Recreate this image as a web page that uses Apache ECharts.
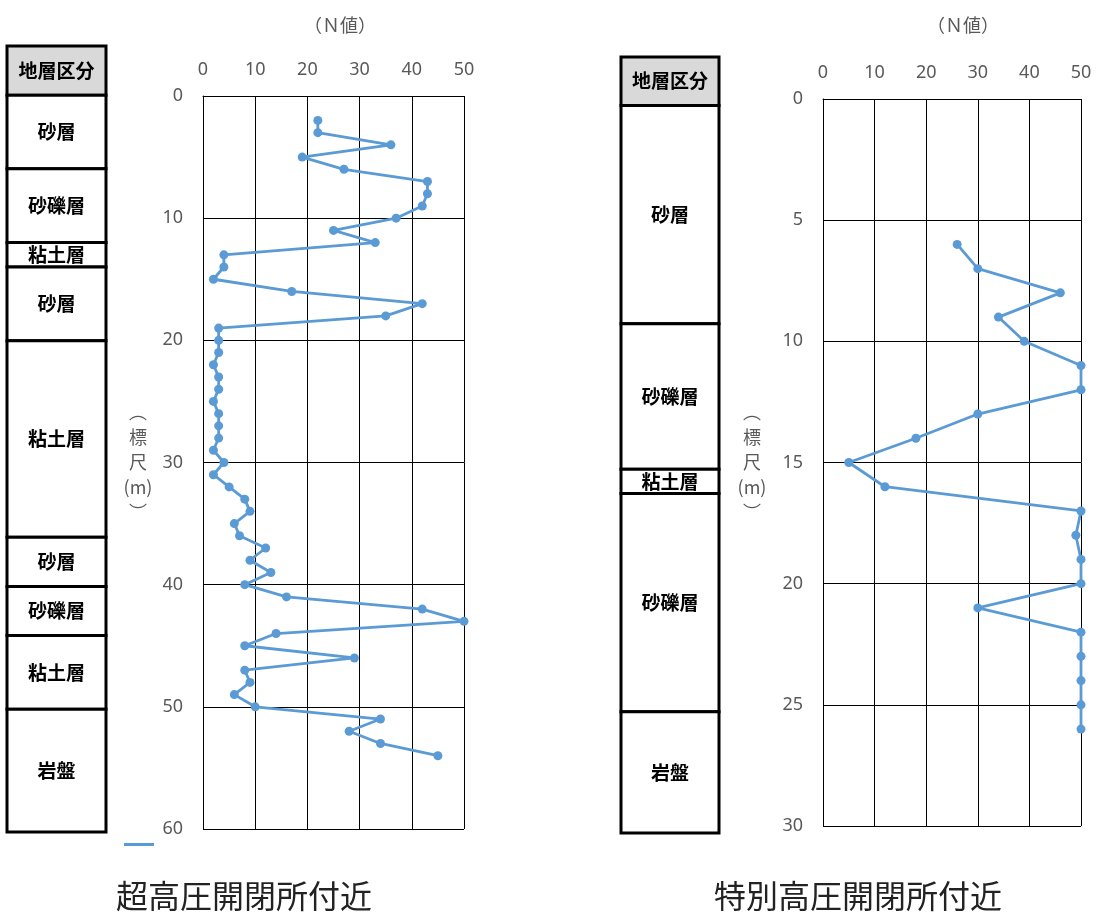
<!DOCTYPE html>
<html>
<head>
<meta charset="utf-8">
<script src="https://cdn.jsdelivr.net/npm/echarts@6/dist/echarts.min.js"></script>
<style>
html, body { margin: 0; padding: 0; background: #fff; }
#chart { width: 1097px; height: 913px; }
</style>
</head>
<body>
<div id="chart"></div>
<script>
// 超高圧開閉所付近
const leftDepth = [2, 3, 4, 5, 6, 7, 8, 9, 10, 11, 12, 13, 14, 15, 16, 17, 18, 19, 20, 21, 22, 23, 24, 25, 26, 27,
  28, 29, 30, 31, 32, 33, 34, 35, 36, 37, 38, 39, 40, 41, 42, 43, 44, 45, 46, 47, 48, 49, 50, 51, 52, 53, 54]
const leftN = [22, 22, 36, 19, 27, 43, 43, 42, 37, 25, 33, 4, 4, 2, 17, 42, 35, 3, 3, 3, 2, 3, 3, 2, 3, 3,
  3, 2, 4, 2, 5, 8, 9, 6, 7, 12, 9, 13, 8, 16, 42, 50, 14, 8, 29, 8, 9, 6, 10, 34, 28, 34, 45]
const leftLayerNames = ['砂層', '砂礫層', '粘土層', '砂層', '粘土層', '砂層', '砂礫層', '粘土層', '岩盤']
const leftLayerTop = [0, 6, 12, 14, 20, 36, 40, 44, 50]
const leftLayerBottom = [6, 12, 14, 20, 36, 40, 44, 50, 60]

// 特別高圧開閉所付近
const rightDepth = [6, 7, 8, 9, 10, 11, 12, 13, 14, 15, 16, 17, 18, 19, 20, 21, 22, 23, 24, 25, 26]
const rightN = [26, 30, 46, 34, 39, 50, 50, 30, 18, 5, 12, 50, 49, 50, 50, 30, 50, 50, 50, 50, 50]
const rightLayerNames = ['砂層', '砂礫層', '粘土層', '砂礫層', '岩盤']
const rightLayerTop = [0, 9, 15, 16, 25]
const rightLayerBottom = [9, 15, 16, 25, 30]

const columnHeader = '地層区分'
const nTicks = ['0', '10', '20', '30', '40', '50']
const panelTitles = ['超高圧開閉所付近', '特別高圧開閉所付近']

const LINE_COLOR = '#5b9bd5'
const AXIS_TEXT = '#595959'
const CJK = '"Noto Sans CJK JP", sans-serif'

function layerData(headerDepth, tops, bottoms) {
  const rows = [[0, -headerDepth, 0]]
  tops.forEach((t, i) => rows.push([0, t, bottoms[i]]))
  return rows
}

// renderItem does not get the item name, so the labels come in through a closure
function layerRenderer(labels) {
  return function (params, api) {
    const top = api.value(1)
    const bottom = api.value(2)
    const p0 = api.coord([0, top])
    const p1 = api.coord([1, bottom])
    return {
      type: 'rect',
      shape: { x: p0[0], y: p0[1], width: p1[0] - p0[0], height: p1[1] - p0[1] },
      style: { fill: top < 0 ? '#d9d9d9' : '#fff', stroke: '#000', lineWidth: 3 },
      textContent: {
        style: { text: labels[params.dataIndex], font: 'bold 19px ' + CJK, fill: '#000' },
      },
      textConfig: { position: 'inside' },
    }
  }
}

function plotAxes(gridIndex, maxDepth, step, nameGap) {
  const x = {
    gridIndex, type: 'value', position: 'top', min: 0, max: 50, interval: 10,
    axisLine: { show: true, lineStyle: { color: '#000', width: 1 } },
    axisTick: { show: false },
    axisLabel: {
      color: AXIS_TEXT, fontSize: 18, fontFamily: 'Noto Sans', margin: 17,
      formatter: (v) => nTicks[Math.round(v / 10)] ?? '',
    },
    splitLine: { show: true, lineStyle: { color: '#000', width: 1 } },
  }
  const y = {
    gridIndex, type: 'value', inverse: true, min: 0, max: maxDepth, interval: step,
    axisLine: { show: true, lineStyle: { color: '#000', width: 1 } },
    axisTick: { show: false },
    axisLabel: { color: AXIS_TEXT, fontSize: 18, fontFamily: 'Noto Sans', margin: 20 },
    splitLine: { show: true, lineStyle: { color: '#000', width: 1 } },
    name: '︵\n標\n尺\n(m)\n︶',
    nameLocation: 'middle',
    nameRotate: 0,
    nameGap,
    nameTextStyle: {
      color: AXIS_TEXT, fontSize: 18, lineHeight: 25, fontFamily: CJK,
      align: 'center', verticalAlign: 'middle', padding: [0, 0, 40, 0],
    },
  }
  return { x, y }
}

function columnAxes(gridIndex, headerDepth, maxDepth) {
  return {
    x: { gridIndex, type: 'value', min: 0, max: 1, show: false },
    y: { gridIndex, type: 'value', inverse: true, min: -headerDepth, max: maxDepth, show: false },
  }
}

function buildOption() {
  const lc = columnAxes(0, 4, 60)
  const lp = plotAxes(1, 60, 10, 65)
  const rc = columnAxes(2, 2, 30)
  const rp = plotAxes(3, 30, 5, 71)

  const nLine = {
    type: 'line',
    name: 'N値',
    symbol: 'circle',
    symbolSize: 9,
    lineStyle: { color: LINE_COLOR, width: 2.8 },
    itemStyle: { color: LINE_COLOR },
  }
  const smallTitle = { fontSize: 18, fontWeight: 'normal', color: AXIS_TEXT, fontFamily: CJK }
  const bigTitle = { fontSize: 32, fontWeight: 'normal', color: '#222', fontFamily: CJK }

  return {
    animation: false,
    backgroundColor: '#fff',
    title: [
      { text: '（Ｎ値）', left: 335, top: 11, textAlign: 'center', textStyle: smallTitle },
      { text: '（Ｎ値）', left: 958, top: 11, textAlign: 'center', textStyle: smallTitle },
      { text: panelTitles[0], left: 239, top: 875, textAlign: 'center', textStyle: bigTitle },
      { text: panelTitles[1], left: 853, top: 875, textAlign: 'center', textStyle: bigTitle },
    ],
    legend: {
      left: 119, top: 838, itemWidth: 30, itemHeight: 3, selectedMode: false,
      data: [{ name: 'N値', icon: 'rect' }],
      formatter: () => '',
    },
    grid: [
      { left: 7, top: 46, width: 99, height: 786 },
      { left: 203, top: 96, width: 261, height: 733 },
      { left: 621, top: 57, width: 98, height: 776 },
      { left: 823, top: 99, width: 258, height: 727 },
    ],
    xAxis: [lc.x, lp.x, rc.x, rp.x],
    yAxis: [lc.y, lp.y, rc.y, rp.y],
    series: [
      {
        type: 'custom', xAxisIndex: 0, yAxisIndex: 0, clip: false,
        encode: { x: 0, y: [1, 2] },
        renderItem: layerRenderer([columnHeader, ...leftLayerNames]),
        data: layerData(4, leftLayerTop, leftLayerBottom),
      },
      {
        ...nLine, xAxisIndex: 1, yAxisIndex: 1,
        data: leftDepth.map((d, i) => [leftN[i], d]),
      },
      {
        type: 'custom', xAxisIndex: 2, yAxisIndex: 2, clip: false,
        encode: { x: 0, y: [1, 2] },
        renderItem: layerRenderer([columnHeader, ...rightLayerNames]),
        data: layerData(2, rightLayerTop, rightLayerBottom),
      },
      {
        ...nLine, xAxisIndex: 3, yAxisIndex: 3,
        data: rightDepth.map((d, i) => [rightN[i], d]),
      },
    ],
  }
}

const chart = echarts.init(document.getElementById('chart'))
chart.setOption(buildOption())
</script>
</body>
</html>
